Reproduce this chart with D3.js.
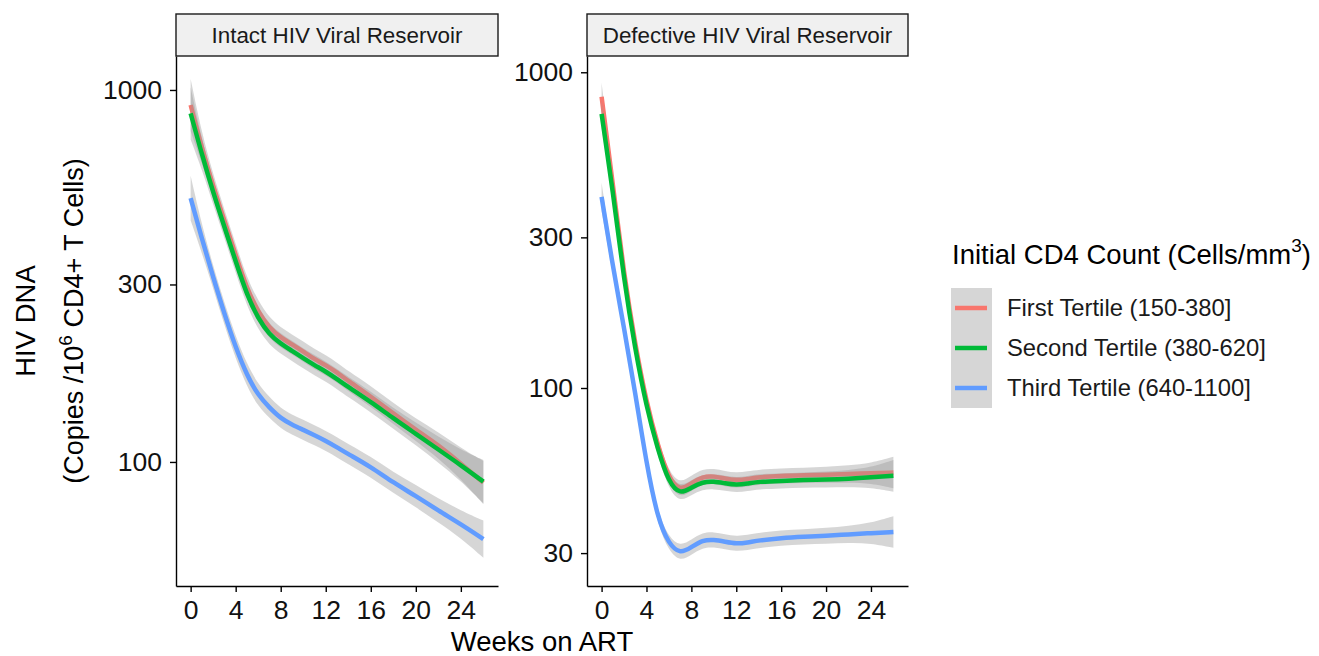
<!DOCTYPE html>
<html>
<head>
<meta charset="utf-8">
<script src="https://cdn.jsdelivr.net/npm/d3@7"></script>
<style>
  body { margin: 0; background: #fff; }
  text { font-family: "Liberation Sans", Arial, sans-serif; }
</style>
</head>
<body>
<svg id="chart"></svg>
<script>
const width = 1319;
const height = 656;

// weeks on ART where the smoothed curves were read
const weeks = [0, 1, 2, 3, 4, 5, 6, 7, 8, 9, 10, 11, 12, 13, 14, 16, 18, 20, 22, 24, 26];

const tertiles = ["First Tertile (150-380]", "Second Tertile (380-620]", "Third Tertile (640-1100]"];
const colors = ["#F8766D", "#00BA38", "#619CFF"];

const panelTitles = ["Intact HIV Viral Reservoir", "Defective HIV Viral Reservoir"];

// intact reservoir, copies / 10^6 CD4+ T cells
const intactFirst = [911, 698, 551, 445, 360, 292, 253, 229, 216, 207, 198, 189, 182, 174, 165, 150, 135, 122, 111, 99, 88];
const intactSecond = [865, 671, 530, 428, 346, 281, 243, 220, 208, 199, 190, 182, 175, 167, 159, 145, 131, 119, 108, 98, 88.5];
const intactThird = [512, 398, 314, 250, 203, 171, 151, 140, 131, 126, 122, 118, 114, 109.5, 105, 97, 88, 81, 74, 68, 62];

// defective reservoir
const defectiveFirst = [836, 445, 228, 137, 90, 66, 51.5, 47.2, 50, 52.4, 52.6, 51.6, 51, 51.5, 52.2, 52.7, 52.9, 53.1, 53.4, 53.7, 54];
const defectiveSecond = [738, 423, 219, 132, 87, 64, 50, 46, 48.4, 50.4, 50.6, 49.9, 49.3, 49.8, 50.5, 50.8, 51.1, 51.3, 51.6, 52.1, 52.7];
const defectiveThird = [403, 243, 155, 96.6, 57.5, 38.5, 32, 29.8, 31.3, 33, 33.1, 32.6, 32.1, 32.4, 32.9, 33.5, 33.8, 34, 34.4, 34.7, 35];

// half width of the confidence band, in log10 units
const intactBand = [0.07, 0.04, 0.032, 0.03, 0.03, 0.03, 0.03, 0.028, 0.027, 0.027, 0.027, 0.027, 0.027, 0.027, 0.027, 0.028, 0.028, 0.03, 0.035, 0.042, 0.058];
const intactBandThird = [0.06, 0.038, 0.03, 0.03, 0.03, 0.03, 0.03, 0.028, 0.027, 0.027, 0.027, 0.027, 0.027, 0.027, 0.027, 0.028, 0.028, 0.03, 0.032, 0.037, 0.05];
const defectiveBand = [0.045, 0.025, 0.02, 0.02, 0.02, 0.02, 0.022, 0.024, 0.024, 0.024, 0.024, 0.024, 0.024, 0.024, 0.024, 0.024, 0.024, 0.025, 0.027, 0.032, 0.05];

const intactTicks = [100, 300, 1000];
const defectiveTicks = [30, 100, 300, 1000];
const xTicks = [0, 4, 8, 12, 16, 20, 24];

const panels = [
  { title: panelTitles[0], left: 176, right: 498, yDomain: [46.4, 1234], ticks: intactTicks,
    series: [intactFirst, intactSecond, intactThird], bands: [intactBand, intactBand, intactBandThird] },
  { title: panelTitles[1], left: 587, right: 908, yDomain: [23.6, 1126], ticks: defectiveTicks,
    series: [defectiveFirst, defectiveSecond, defectiveThird], bands: [defectiveBand, defectiveBand, defectiveBand] }
];

const plotTop = 56;
const plotBottom = 586;

const svg = d3.select("#chart")
  .attr("width", width)
  .attr("height", height);

const drawPanel = (p) => {
  const xScale = d3.scaleLinear()
    .domain([-1.3, 27.3])
    .range([p.left, p.right]);

  const yScale = d3.scaleLog()
    .domain(p.yDomain)
    .range([plotBottom, plotTop]);

  const g = svg.append("g");

  // smooth layers, ribbon then line for each group like geom_smooth
  p.series.forEach((vals, i) => {
    const band = p.bands[i];
    const pts = weeks.map((w, j) => ({ w: w, v: vals[j], h: band[j] }));

    const area = d3.area()
      .x((d) => xScale(d.w))
      .y0((d) => yScale(d.v / Math.pow(10, d.h)))
      .y1((d) => yScale(d.v * Math.pow(10, d.h)))
      .curve(d3.curveBasis);

    const line = d3.line()
      .x((d) => xScale(d.w))
      .y((d) => yScale(d.v))
      .curve(d3.curveBasis);

    g.append("path")
      .datum(pts)
      .attr("d", area)
      .attr("fill", "#999999")
      .attr("fill-opacity", 0.4);

    g.append("path")
      .datum(pts)
      .attr("d", line)
      .attr("fill", "none")
      .attr("stroke", colors[i])
      .attr("stroke-width", 4.5);
  });

  const xAxis = d3.axisBottom(xScale)
    .tickValues(xTicks)
    .tickSizeInner(6)
    .tickSizeOuter(0)
    .tickPadding(8);

  const yAxis = d3.axisLeft(yScale)
    .tickValues(p.ticks)
    .tickFormat(d3.format("d"))
    .tickSizeInner(6)
    .tickSizeOuter(0)
    .tickPadding(8);

  const gx = svg.append("g")
    .attr("transform", "translate(0," + plotBottom + ")")
    .call(xAxis);

  const gy = svg.append("g")
    .attr("transform", "translate(" + p.left + ",0)")
    .call(yAxis);

  [gx, gy].forEach((a) => {
    a.select(".domain").attr("stroke", "#000").attr("stroke-width", 1.4);
    a.selectAll(".tick line").attr("stroke", "#000").attr("stroke-width", 1.4);
    a.selectAll(".tick text")
      .attr("fill", "#111")
      .style("font-size", "26.5px")
      .style("font-family", "'Liberation Sans', Arial, sans-serif");
  });

  // facet strip
  svg.append("rect")
    .attr("x", p.left)
    .attr("y", 14)
    .attr("width", p.right - p.left)
    .attr("height", plotTop - 14)
    .attr("fill", "#f0f0f0")
    .attr("stroke", "#1a1a1a")
    .attr("stroke-width", 1.4);

  svg.append("text")
    .attr("x", (p.left + p.right) / 2)
    .attr("y", 43)
    .attr("text-anchor", "middle")
    .attr("fill", "#1a1a1a")
    .style("font-size", "22.4px")
    .text(p.title);
};

panels.forEach(drawPanel);

// axis titles
svg.append("text")
  .attr("x", 542)
  .attr("y", 651)
  .attr("text-anchor", "middle")
  .style("font-size", "27.5px")
  .text("Weeks on ART");

svg.append("text")
  .attr("transform", "translate(35,321) rotate(-90)")
  .attr("text-anchor", "middle")
  .style("font-size", "27.5px")
  .text("HIV DNA");

const yTitle2 = svg.append("text")
  .attr("transform", "translate(83,321) rotate(-90)")
  .attr("text-anchor", "middle")
  .style("font-size", "27px");
yTitle2.append("tspan").text("(Copies /10");
yTitle2.append("tspan").attr("dy", -11).style("font-size", "19px").text("6");
yTitle2.append("tspan").attr("dy", 11).text(" CD4+ T Cells)");

// legend
const legendX = 951;
const legendY = 288;
const keyH = 40;

const legendTitle = svg.append("text")
  .attr("x", 952)
  .attr("y", 264)
  .style("font-size", "27.5px");
legendTitle.append("tspan").text("Initial CD4 Count (Cells/mm");
legendTitle.append("tspan").attr("dy", -12).style("font-size", "19px").text("3");
legendTitle.append("tspan").attr("dy", 12).text(")");

const legend = svg.append("g")
  .selectAll("g")
  .data(tertiles)
  .enter()
  .append("g")
  .attr("transform", (d, i) => "translate(" + legendX + "," + (legendY + i * keyH) + ")");

legend.append("rect")
  .attr("width", 41)
  .attr("height", keyH)
  .attr("fill", "#999999")
  .attr("fill-opacity", 0.4);

legend.append("line")
  .attr("x1", 4)
  .attr("x2", 36)
  .attr("y1", keyH / 2)
  .attr("y2", keyH / 2)
  .attr("stroke", (d, i) => colors[i])
  .attr("stroke-width", 4.5);

legend.append("text")
  .attr("x", 56)
  .attr("y", keyH / 2 + 8)
  .attr("fill", "#1a1a1a")
  .style("font-size", "23.8px")
  .text((d) => d);
</script>
</body>
</html>
